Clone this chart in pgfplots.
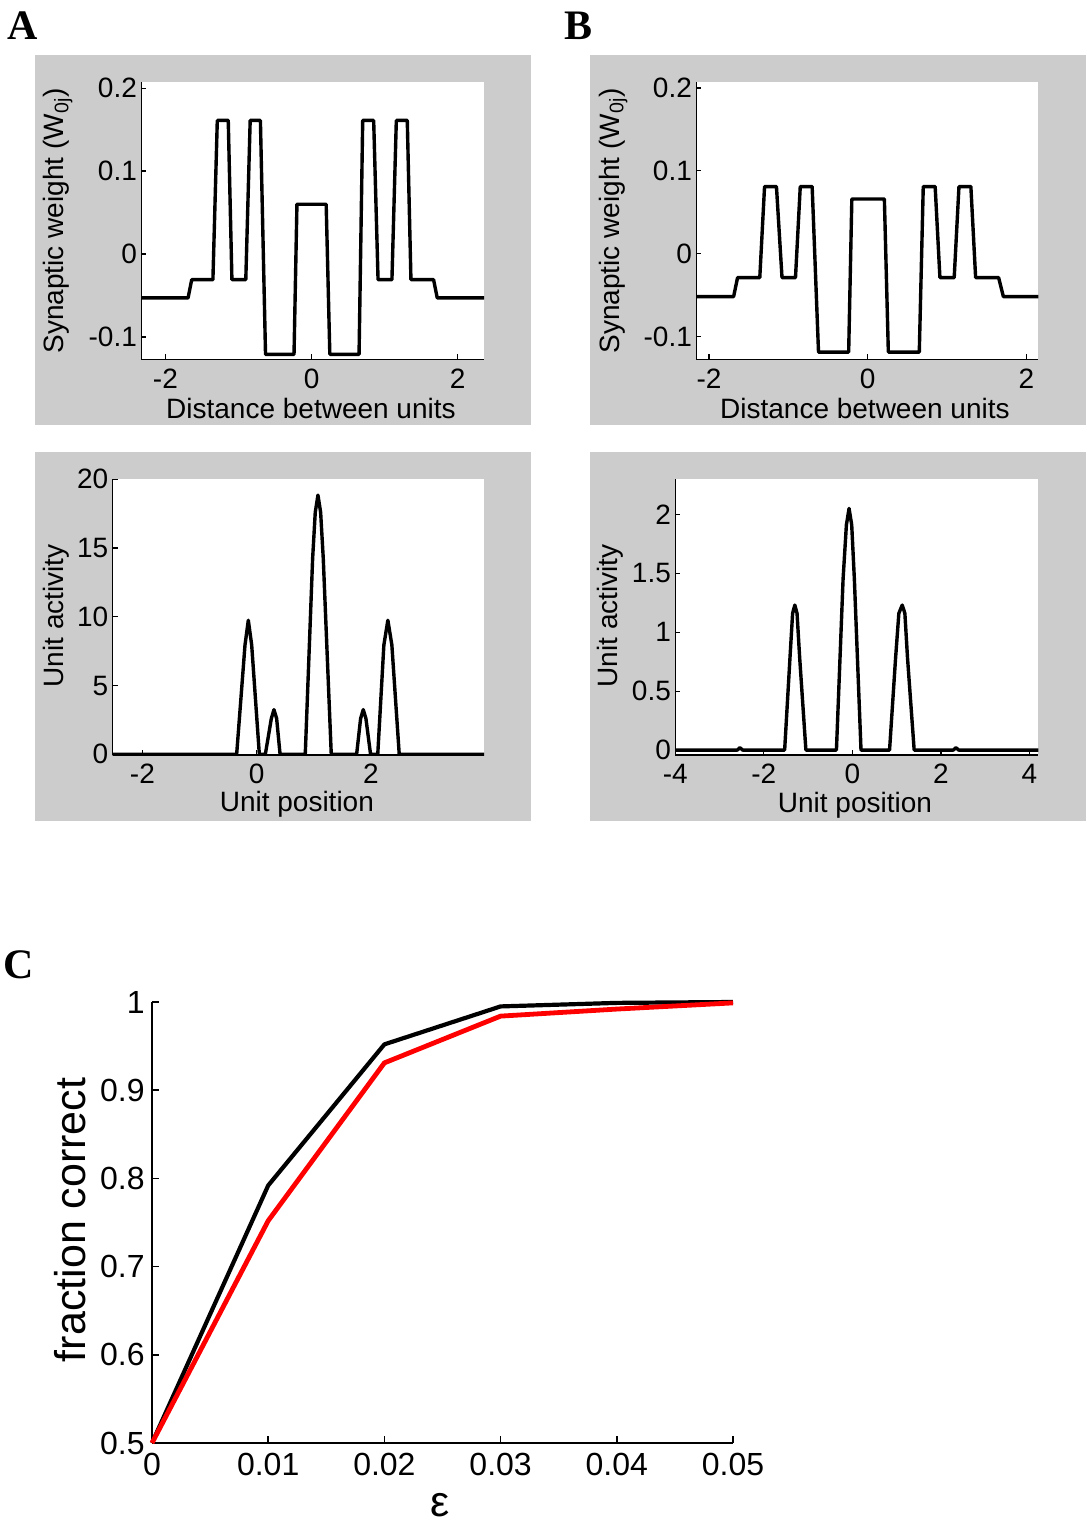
\documentclass[border=0pt]{standalone}
\usepackage{pgfplots}
\pgfplotsset{compat=1.18}
\usepackage{fontspec}
\setmainfont{Liberation Sans}
\newfontfamily\serifpanel{Liberation Serif}
\definecolor{figgrey}{RGB}{204,204,204}
\pgfplotsset{
  abstyle/.style={
    scale only axis, anchor=north west,
    axis x line*=bottom, axis y line*=left,
    tick align=inside,
    major tick length=2.5pt,
    axis line style={line width=0.6pt},
    every tick/.style={black,line width=0.6pt},
    axis background/.style={fill=white},
    tick label style={font=\fontsize{14}{16}\selectfont},
    xticklabel style={inner sep=1pt, yshift=-3.5pt},
    yticklabel style={inner sep=2pt},
    label style={font=\fontsize{14}{16}\selectfont, inner sep=1pt},
  },
  curve/.style={black, line width=1.7pt, line join=round},
}
\begin{document}
\begin{tikzpicture}
\useasboundingbox (0,0) rectangle (543pt,-762pt);
% grey panels
\fill[figgrey] (17.5pt,-27.5pt) rectangle (265.5pt,-212.5pt);
\fill[figgrey] (295pt,-27.5pt) rectangle (543pt,-212.5pt);
\fill[figgrey] (17.5pt,-226pt) rectangle (265.5pt,-410.5pt);
\fill[figgrey] (295pt,-226pt) rectangle (543pt,-410.5pt);

% A top
\begin{axis}[abstyle,
  at={(70.65pt,-41.15pt)}, width=171.35pt, height=138.5pt,
  xmin=-2.33, xmax=2.36, ymin=-0.127, ymax=0.207,
  xtick={-2,0,2}, xticklabels={-2,0,2},
  ytick={-0.1,0,0.1,0.2}, yticklabels={-0.1,0,0.1,0.2},
  xlabel={Distance between units},
  ylabel={Synaptic weight (W\textsubscript{0j})},
  xlabel style={at={(axis description cs:0.495,-0.178)}, anchor=center},
  ylabel style={at={(axis description cs:-0.243,0.5)}, anchor=center},
]
\addplot[curve] coordinates {
(-2.33,-0.053) (-1.69,-0.053) (-1.64,-0.031) (-1.35,-0.031)
(-1.29,0.161) (-1.14,0.161) (-1.09,-0.031) (-0.90,-0.031)
(-0.84,0.161) (-0.70,0.161) (-0.63,-0.121) (-0.24,-0.121)
(-0.20,0.060) (0.20,0.060) (0.25,-0.121) (0.65,-0.121)
(0.70,0.161) (0.85,0.161) (0.91,-0.031) (1.10,-0.031)
(1.16,0.161) (1.31,0.161) (1.36,-0.031) (1.67,-0.031)
(1.72,-0.053) (2.36,-0.053)};
\end{axis}

% B top
\begin{axis}[abstyle,
  at={(348.15pt,-41.15pt)}, width=171pt, height=138.5pt,
  xmin=-2.16, xmax=2.15, ymin=-0.1277, ymax=0.207,
  xtick={-2,0,2}, xticklabels={-2,0,2},
  ytick={-0.1,0,0.1,0.2}, yticklabels={-0.1,0,0.1,0.2},
  xlabel={Distance between units},
  ylabel={Synaptic weight (W\textsubscript{0j})},
  xlabel style={at={(axis description cs:0.493,-0.178)}, anchor=center},
  ylabel style={at={(axis description cs:-0.243,0.5)}, anchor=center},
]
\addplot[curve] coordinates {
(-2.16,-0.052) (-1.69,-0.052) (-1.64,-0.029) (-1.36,-0.029)
(-1.30,0.081) (-1.15,0.081) (-1.08,-0.029) (-0.91,-0.029)
(-0.85,0.081) (-0.70,0.081) (-0.62,-0.119) (-0.24,-0.119)
(-0.20,0.066) (0.21,0.066) (0.26,-0.119) (0.65,-0.119)
(0.70,0.081) (0.85,0.081) (0.91,-0.029) (1.09,-0.029)
(1.15,0.081) (1.30,0.081) (1.36,-0.029) (1.65,-0.029)
(1.71,-0.052) (2.15,-0.052)};
\end{axis}

% A bottom
\begin{axis}[abstyle,
  at={(56.35pt,-239.65pt)}, width=185.65pt, height=137.85pt,
  xmin=-2.52, xmax=3.98, ymin=-0.05, ymax=20,
  xtick={-2,0,2}, xticklabels={-2,0,2},
  ytick={0,5,10,15,20}, yticklabels={0,5,10,15,20},
  xlabel={Unit position},
  ylabel={Unit activity},
  xlabel style={at={(axis description cs:0.496,-0.18)}, anchor=center},
  ylabel style={at={(axis description cs:-0.151,0.505)}, anchor=center},
]
\addplot[curve] coordinates {
(-2.52,0) (-0.35,0) (-0.204,7.95) (-0.146,9.75) (-0.087,7.95) (0.047,0)
(0.152,0) (0.257,2.6) (0.303,3.25) (0.35,2.6) (0.41,0)
(0.851,0) (0.98,14.25) (1.026,17.6) (1.073,18.85) (1.12,17.6) (1.166,14.25) (1.306,0)
(1.75,0) (1.82,2.6) (1.866,3.25) (1.913,2.6) (1.994,0)
(2.12,0) (2.227,7.95) (2.297,9.75) (2.367,7.95) (2.496,0) (3.98,0)};
\end{axis}

% B bottom
\begin{axis}[abstyle,
  at={(337.65pt,-239.65pt)}, width=181.5pt, height=137.85pt,
  xmin=-4, xmax=4.2, ymin=-0.042, ymax=2.297,
  xtick={-4,-2,0,2,4}, xticklabels={-4,-2,0,2,4},
  ytick={0,0.5,1,1.5,2}, yticklabels={0,0.5,1,1.5,2},
  xlabel={Unit position},
  ylabel={Unit activity},
  xlabel style={at={(axis description cs:0.495,-0.182)}, anchor=center},
  ylabel style={at={(axis description cs:-0.18,0.505)}, anchor=center},
]
\addplot[curve] coordinates {
(-4,0) (-2.60,0) (-2.54,0.02) (-2.48,0) (-1.53,0)
(-1.41,0.78) (-1.35,1.16) (-1.30,1.23) (-1.25,1.16) (-1.19,0.78) (-1.05,0)
(-0.36,0) (-0.21,1.45) (-0.135,1.91) (-0.075,2.05) (-0.015,1.91) (0.045,1.45) (0.195,0)
(0.84,0) (0.976,0.78) (1.05,1.16) (1.126,1.23) (1.186,1.16) (1.246,0.78) (1.396,0)
(2.28,0) (2.34,0.02) (2.40,0) (4.2,0)};
\end{axis}

% C
\begin{axis}[
  scale only axis, anchor=north west,
  at={(76pt,-501pt)}, width=290.5pt, height=220.5pt,
  xmin=0, xmax=0.05, ymin=0.5, ymax=1,
  axis x line*=bottom, axis y line*=left,
  tick align=inside, major tick length=3.5pt,
  axis line style={line width=0.75pt},
  every tick/.style={black,line width=0.75pt},
  clip=false, scaled x ticks=false, scaled y ticks=false,
  xtick={0,0.01,0.02,0.03,0.04,0.05}, xticklabels={0,0.01,0.02,0.03,0.04,0.05},
  ytick={0.5,0.6,0.7,0.8,0.9,1}, yticklabels={0.5,0.6,0.7,0.8,0.9,1},
  tick label style={font=\fontsize{16}{19}\selectfont},
  xticklabel style={inner sep=1pt, yshift=-4pt},
  yticklabel style={inner sep=3.5pt},
  xlabel={ε}, ylabel={fraction correct},
  label style={font=\fontsize{21.5}{25}\selectfont, inner sep=1pt},
  xlabel style={at={(axis description cs:0.496,-0.141)}, anchor=center},
  ylabel style={at={(axis description cs:-0.141,0.506)}, anchor=center},
]
\addplot[black, line width=2.1pt, line join=round] coordinates {
(0,0.5) (0.01,0.792) (0.02,0.952) (0.03,0.995) (0.04,0.999) (0.05,1.0)};
\addplot[red, line width=2.4pt, line join=round] coordinates {
(0,0.5) (0.01,0.752) (0.02,0.931) (0.03,0.984) (0.04,0.992) (0.05,0.999)};
\end{axis}

% panel letters
\node[font=\serifpanel\bfseries\fontsize{21}{24}\selectfont] at (11.25pt,-12.75pt) {A};
\node[font=\serifpanel\bfseries\fontsize{21}{24}\selectfont] at (289pt,-13pt) {B};
\node[font=\serifpanel\bfseries\fontsize{21}{24}\selectfont] at (9.5pt,-482.5pt) {C};
\end{tikzpicture}
\end{document}
